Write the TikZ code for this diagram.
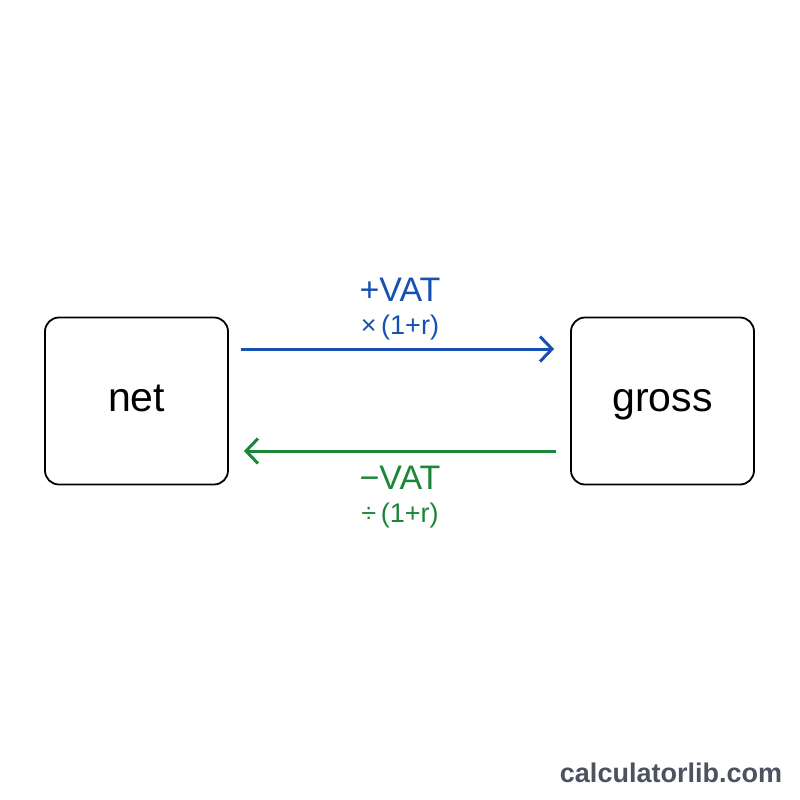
\documentclass[tikz,border=0pt]{standalone}
\usepackage{fontspec}
\setmainfont{Liberation Sans}
\usetikzlibrary{arrows.meta}
\definecolor{vatblue}{RGB}{22,80,178}
\definecolor{vatgreen}{RGB}{28,134,56}
\definecolor{wmgray}{RGB}{75,82,96}
\tikzset{
  box/.style={draw=black, line width=1.8pt, rounded corners=14pt, minimum width=183pt, minimum height=167pt, inner sep=0pt, text height=20pt, text depth=0pt, font=\fontsize{41}{43}\selectfont},
  conn/.style={line width=3pt, -{Straight Barb[length=12pt,width=25pt,line width=3pt]}},
  bigl/.style={font=\fontsize{34}{36}\selectfont, inner sep=0pt},
  smalll/.style={font=\fontsize{27}{29}\selectfont, inner sep=0pt},
}
\begin{document}
\begin{tikzpicture}[x=1pt,y=-1pt]
\useasboundingbox[fill=white] (0,0) rectangle (800,800);
\node[box] (net) at (136.5,401) {net};
\node[box] (gross) at (662.5,401) {gross};
\draw[conn, vatblue] ([shift={(12,-52)}]net.east) -- ([shift={(-16,-52)}]gross.west);
\draw[conn, vatgreen] ([shift={(-14,50)}]gross.west) -- ([shift={(15,50)}]net.east);
\node[bigl, text=vatblue] (plusvat) at (400,290) {+VAT};
\node[smalll, text=vatblue] (mul) at (400,328) {×\,(1+r)};
\node[bigl, text=vatgreen] (minusvat) at (400,478) {−VAT};
\node[smalll, text=vatgreen] (div) at (400,516) {÷\,(1+r)};
\node[font=\fontsize{27}{29}\selectfont\bfseries, text=wmgray, inner sep=0pt] (wm) at (671,773) {calculatorlib.com};
\end{tikzpicture}
\end{document}
